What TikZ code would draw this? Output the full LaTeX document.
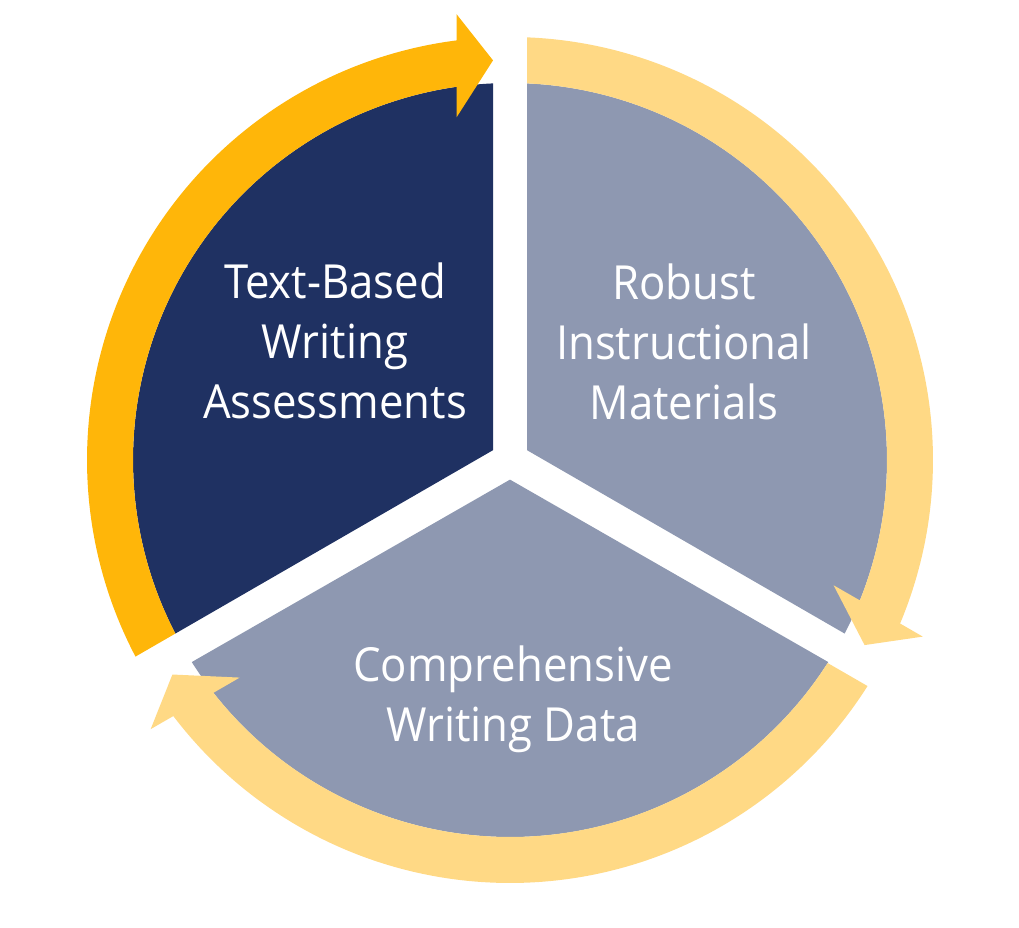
\documentclass[tikz,border=0pt]{standalone}
\usepackage{fontspec}
\setmainfont[FakeStretch=0.93]{Open Sans}
\definecolor{navy}{HTML}{1F3162}
\definecolor{slate}{HTML}{8E98B1}
\definecolor{gold}{HTML}{FFB609}
\definecolor{pale}{HTML}{FFD985}
\tikzset{
  sector/.style={fill=#1, draw=none},
  ringarrow/.style={fill=#1, draw=none},
  label/.style={text=white, align=center, inner sep=0pt,
    font=\fontsize{47}{60}\selectfont}
}
\begin{document}
\begin{tikzpicture}[x=1pt,y=1pt]
\useasboundingbox (0,0) rectangle (1019,928);
\begin{scope}[shift={(510,468)}]
  % pie sectors
  \fill[sector=navy] (150:19.63) -- (92.585:377)
    arc[start angle=92.585, end angle=207.415, radius=377] -- cycle;
  \fill[sector=slate] (30:19.63) -- (-27.415:377)
    arc[start angle=-27.415, end angle=87.415, radius=377] -- cycle;
  \fill[sector=slate] (270:19.63) -- (212.415:377)
    arc[start angle=212.415, end angle=327.585, radius=377] -- cycle;
  % ring arrows
  \fill[ringarrow=gold] (207.697:423)
    arc[start angle=207.697, end angle=97.254, radius=423]
    -- (96.836:449) -- (92.436:400) -- (98.836:347) -- (98.134:377)
    arc[start angle=98.134, end angle=207.415, radius=377] -- cycle;
  \fill[ringarrow=pale] (87.697:423)
    arc[start angle=87.697, end angle=-22.746, radius=423]
    -- (-23.164:449) -- (-27.564:400) -- (-21.164:347) -- (-21.866:377)
    arc[start angle=-21.866, end angle=87.415, radius=377] -- cycle;
  \fill[ringarrow=pale] (-32.303:423)
    arc[start angle=-32.303, end angle=-142.746, radius=423]
    -- (-143.164:449) -- (-147.564:400) -- (-141.164:347) -- (-141.866:377)
    arc[start angle=-141.866, end angle=-32.585, radius=377] -- cycle;
\end{scope}
\node[label] (assess) at (335,587) {Text-Based\\Writing\\Assessments};
\node[label] (robust) at (684,586) {Robust\\Instructional\\Materials};
\node[label] (data) at (513,229) {Comprehensive\\Writing Data};
\end{tikzpicture}
\end{document}
